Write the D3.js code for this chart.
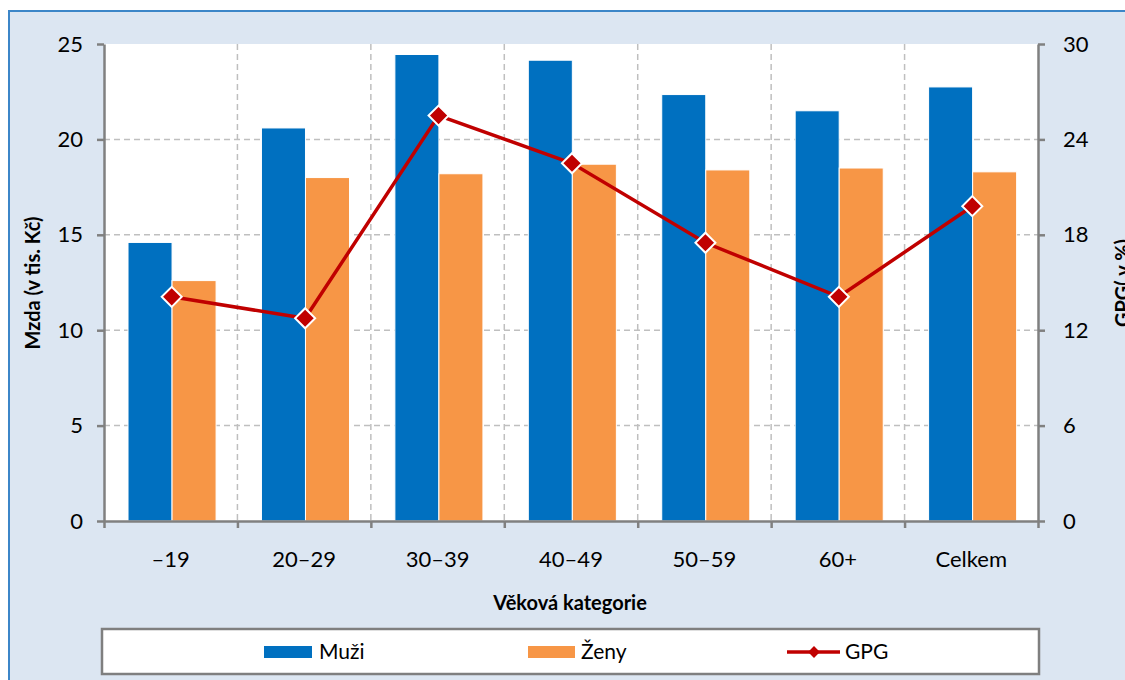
<html>
<script src="https://d3js.org/d3.v7.min.js"></script>
<style>
body { margin: 0; }
text { font-family: Lato, "Open Sans", sans-serif; fill: #000; }
</style>
<body>
<svg width="1125" height="680"></svg>
<script>
// data
var categories = ["\u201319", "20\u201329", "30\u201339", "40\u201349", "50\u201359", "60+", "Celkem"];
var muzi = [14.6, 20.6, 24.45, 24.15, 22.35, 21.5, 22.75];
var zeny = [12.6, 18.0, 18.2, 18.7, 18.4, 18.5, 18.3];
var gpg = [14.1, 12.75, 25.5, 22.5, 17.5, 14.1, 19.8];
var leftTicks = [0, 5, 10, 15, 20, 25];
var rightTicks = [0, 6, 12, 18, 24, 30];
var seriesNames = ["Muži", "Ženy"];

var svg = d3.select("svg");
var pLeft = 104, pRight = 1038, pTop = 44, pBottom = 521;
var blue = "#0070c0", orange = "#f79646", red = "#c00000";

svg.append("rect").attr("width", 1125).attr("height", 680).attr("fill", "#fff");
// outer frame
svg.append("rect").attr("x", 9).attr("y", 11).attr("width", 1140).attr("height", 690)
  .attr("fill", "#dce6f2").attr("stroke", "#3c86c8").attr("stroke-width", 2);
// plot area
svg.append("rect").attr("x", pLeft).attr("y", pTop).attr("width", pRight - pLeft).attr("height", pBottom - pTop)
  .attr("fill", "#fff");

var x = d3.scaleBand().domain(categories).range([pLeft, pRight]);
var xb = d3.scaleLinear().domain([0, categories.length]).range([pLeft, pRight]);
var x1 = d3.scaleBand().domain(seriesNames).range([x.bandwidth() * 0.18, x.bandwidth() * 0.84]);
var y = d3.scaleLinear().domain([0, 25]).range([pBottom, pTop]);
var y2 = d3.scaleLinear().domain([0, 30]).range([pBottom, pTop]);

// grid
var grid = svg.append("g").attr("stroke", "#bfbfbf").attr("stroke-width", 1.5).attr("stroke-dasharray", "6,4");
grid.selectAll("line.h").data(leftTicks.slice(1, -1)).enter().append("line")
  .attr("x1", pLeft).attr("x2", pRight).attr("y1", d => y(d)).attr("y2", d => y(d));
grid.selectAll("line.v").data(d3.range(1, categories.length)).enter().append("line")
  .attr("y1", pTop).attr("y2", pBottom).attr("x1", d => xb(d)).attr("x2", d => xb(d));

// bars
var rows = categories.map((c, i) => ({cat: c, vals: [muzi[i], zeny[i]]}));
var grp = svg.append("g").selectAll("g").data(rows).enter().append("g")
  .attr("transform", d => "translate(" + x(d.cat) + ",0)");
grp.selectAll("rect").data(d => d.vals.map((v, j) => ({s: seriesNames[j], v: v}))).enter().append("rect")
  .attr("x", d => x1(d.s)).attr("width", x1.bandwidth())
  .attr("y", d => y(d.v)).attr("height", d => pBottom - y(d.v))
  .attr("fill", d => d.s == "Muži" ? blue : orange)
  .attr("stroke", "#fff").attr("stroke-width", 1);

// axes
function styleAxis(g) {
  g.selectAll("path, line").attr("stroke", "#808080").attr("stroke-width", 2.5);
  g.selectAll("text").style("font-size", "22px").style("font-family", "Lato, sans-serif");
}
svg.append("g").attr("transform", "translate(" + pLeft + ",0)")
  .call(d3.axisLeft(y).tickValues(leftTicks).tickSize(7).tickSizeOuter(0).tickPadding(14))
  .call(styleAxis);
svg.append("g").attr("transform", "translate(" + pRight + ",0)")
  .call(d3.axisRight(y2).tickValues(rightTicks).tickSize(7).tickSizeOuter(0).tickPadding(18))
  .call(styleAxis);
svg.append("g").attr("transform", "translate(0," + pBottom + ")")
  .call(d3.axisBottom(xb).tickValues(d3.range(0, categories.length + 1)).tickFormat("").tickSize(7).tickSizeOuter(0))
  .call(styleAxis);
svg.append("g").attr("transform", "translate(0," + pBottom + ")")
  .call(d3.axisBottom(x).tickSize(0).tickPadding(30))
  .call(styleAxis)
  .call(g => g.select(".domain").remove());

// GPG line
var cx = i => x(categories[i]) + x.bandwidth() / 2 + 1;
svg.append("path").datum(gpg)
  .attr("d", d3.line().x((d, i) => cx(i)).y(d => y2(d)))
  .attr("fill", "none").attr("stroke", red).attr("stroke-width", 3.5);
var diamond = d3.symbol().type(d3.symbolSquare).size(200);
svg.append("g").selectAll("path").data(gpg).enter().append("path")
  .attr("d", diamond)
  .attr("transform", (d, i) => "translate(" + cx(i) + "," + y2(d) + ") rotate(45)")
  .attr("fill", red).attr("stroke", "#fff").attr("stroke-width", 2);

// axis titles
svg.append("text").attr("transform", "translate(33,283) rotate(-90)")
  .attr("text-anchor", "middle").attr("dy", "0.35em")
  .style("font-size", "20px").style("font-weight", "bold").text("Mzda (v tis. Kč)");
svg.append("text").attr("transform", "translate(1123,283) rotate(-90)")
  .attr("text-anchor", "middle").attr("dy", "0.35em")
  .style("font-size", "20px").style("font-weight", "bold").text("GPG( v %)");
svg.append("text").attr("x", 570).attr("y", 603)
  .attr("text-anchor", "middle").attr("dy", "0.35em")
  .style("font-size", "20px").style("font-weight", "bold").text("Věková kategorie");

// legend
var lg = svg.append("g");
lg.append("rect").attr("x", 102).attr("y", 629).attr("width", 937).attr("height", 45)
  .attr("fill", "#fff").attr("stroke", "#7f7f7f").attr("stroke-width", 2.5);
var ly = 652;
lg.append("rect").attr("x", 264).attr("y", ly - 6).attr("width", 48).attr("height", 12).attr("fill", blue);
lg.append("text").attr("x", 319).attr("y", ly).attr("dy", "0.35em").style("font-size", "21px").text("Muži");
lg.append("rect").attr("x", 528).attr("y", ly - 6).attr("width", 47).attr("height", 12).attr("fill", orange);
lg.append("text").attr("x", 581).attr("y", ly).attr("dy", "0.35em").style("font-size", "21px").text("Ženy");
lg.append("line").attr("x1", 787).attr("x2", 840).attr("y1", ly).attr("y2", ly)
  .attr("stroke", red).attr("stroke-width", 3.5);
lg.append("path").attr("d", d3.symbol().type(d3.symbolSquare).size(70))
  .attr("transform", "translate(814," + ly + ") rotate(45)").attr("fill", red);
lg.append("text").attr("x", 845).attr("y", ly).attr("dy", "0.35em").style("font-size", "21px").text("GPG");
</script>
</body>
</html>
